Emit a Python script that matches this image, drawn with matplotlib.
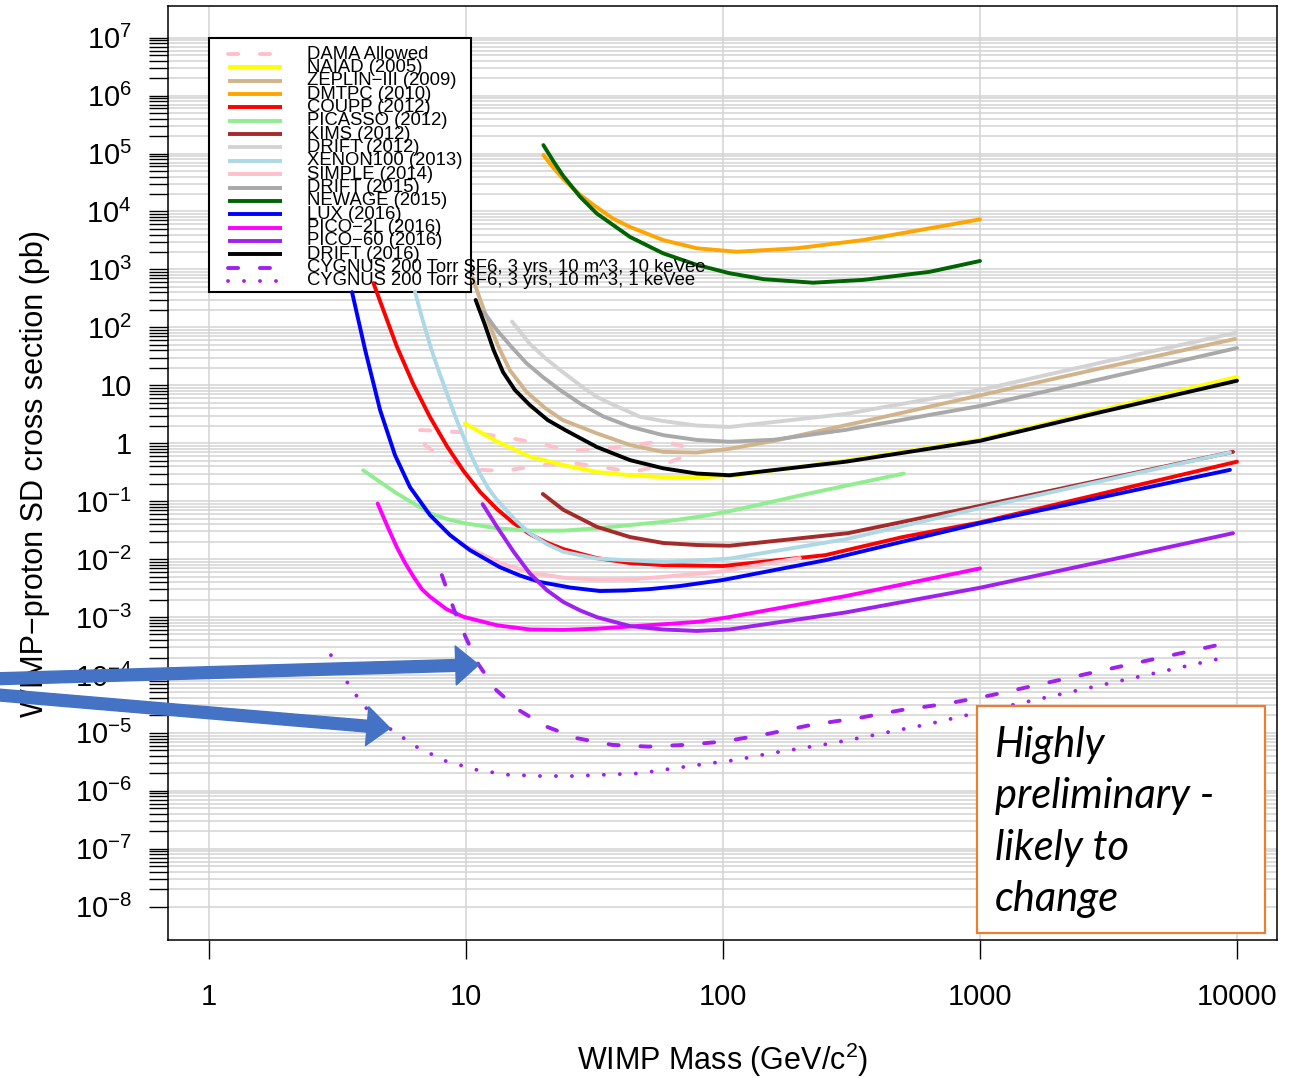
import matplotlib.pyplot as plt
from matplotlib.patches import Rectangle

plt.rcParams['font.family'] = ['Liberation Sans', 'DejaVu Sans']
plt.rcParams['mathtext.fontset'] = 'custom'
plt.rcParams['mathtext.rm'] = 'Liberation Sans'
plt.rcParams['mathtext.it'] = 'Liberation Sans:italic'

# limit curves, WIMP mass (GeV) vs SD cross section (pb)
dama_mass = [6.62, 7.92, 10.6, 14.3, 19.4, 25.4, 34.1, 44.7, 58.4, 71.8, 73.5,
             57.9, 44.7, 33.2, 24.7, 18.4, 13.8, 10.4, 8.06, 6.92, 6.62]
dama_sigma = [1.69, 1.63, 1.50, 1.28, 0.97, 0.76, 0.79, 0.93, 1.09, 0.86, 0.63,
              0.42, 0.32, 0.39, 0.47, 0.40, 0.33, 0.36, 0.57, 0.93, 1.69]
naiad_mass = [9.9, 13.2, 17.7, 23.9, 32.3, 43.5, 58.4, 80.9, 106, 300, 1000, 3000, 10000]
naiad_sigma = [2.2, 1.07, 0.59, 0.42, 0.32, 0.28, 0.26, 0.26, 0.27, 0.50, 1.15, 3.8, 14]
zeplin_mass = [10.6, 11.44, 12.4, 13.44, 14.8, 17.2, 20.3, 23.8, 32.3, 43.5, 58.4, 79, 106,
               158, 400, 1000, 3000, 9820]
zeplin_sigma = [711, 274, 105, 44, 18.3, 7.66, 4.05, 2.51, 1.48, 0.93, 0.71, 0.69, 0.80,
                1.1, 2.7, 6.7, 20, 63]
dmtpc_mass = [20, 21.9, 23.9, 27.8, 32.3, 37.4, 43.5, 58.4, 79, 113, 194, 352, 638, 1000]
dmtpc_sigma = [9.44e4, 5.63e4, 3.64e4, 1.93e4, 1.18e4, 7510, 5400, 3220, 2320, 2020, 2320,
               3220, 5130, 7330]
coupp_mass = [4.36, 5.37, 6.23, 7.24, 8.42, 9.78, 11.35, 13.2, 15.3, 17.7, 20.6, 23.9, 32.3,
              43.5, 58.4, 100, 250, 500, 1000, 10000]
coupp_sigma = [583, 47.6, 10.5, 2.83, 0.895, 0.331, 0.144, 0.073, 0.0419, 0.027, 0.0193,
               0.0149, 0.0104, 0.00855, 0.00789, 0.0076, 0.0117, 0.024, 0.043, 0.48]
picasso_mass = [3.98, 5.38, 7.24, 8.42, 9.77, 13.2, 17.7, 23.9, 32.3, 58.4, 80.9, 106, 220, 505]
picasso_sigma = [0.34, 0.136, 0.062, 0.0492, 0.042, 0.034, 0.031, 0.031, 0.034, 0.044, 0.054,
                 0.067, 0.138, 0.30]
kims_mass = [19.9, 23.9, 32.3, 43.5, 58.4, 79, 106, 306, 1000, 9650]
kims_sigma = [0.133, 0.071, 0.036, 0.024, 0.019, 0.0175, 0.017, 0.028, 0.083, 0.71]
drift12_mass = [15.1, 17.7, 20.3, 23.2, 29.0, 32.3, 36.3, 47.5, 58.4, 79, 106, 300, 1000,
                3000, 9930]
drift12_sigma = [126, 52, 29.6, 18.4, 8.7, 6.3, 4.9, 2.87, 2.42, 2.02, 1.91, 3.2, 8.3, 25, 81]
xenon_mass = [6.33, 6.74, 7.24, 7.78, 8.42, 9.06, 9.77, 10.5, 11.3, 12.2, 13.2, 15.3, 17.7,
              20.6, 23.9, 32.3, 58.4, 80.9, 106, 300, 1000, 9390]
xenon_sigma = [412, 147, 49.5, 19.1, 7.28, 2.99, 1.29, 0.597, 0.302, 0.167, 0.105, 0.0512,
               0.0279, 0.0182, 0.0134, 0.0102, 0.0089, 0.0095, 0.0102, 0.022, 0.076, 0.69]
simple_mass = [9.48, 13.6, 18.3, 24.6, 33.2, 44.8, 60.4, 94.5, 199]
simple_sigma = [0.0186, 0.0085, 0.0057, 0.0047, 0.0044, 0.0045, 0.005, 0.006, 0.0104]
drift15_mass = [11.7, 13.2, 15.1, 17.2, 19.9, 23.2, 28.0, 34.2, 43.5, 58.4, 79, 106, 158,
                300, 1000, 3000, 10000]
drift15_sigma = [186, 89, 44.9, 24, 13.9, 8.3, 4.75, 2.9, 1.93, 1.38, 1.14, 1.06, 1.15,
                 1.7, 4.4, 13, 44]
newage_mass = [20, 21.9, 23.9, 27.8, 32.3, 43.5, 58.4, 79, 106, 143.5, 224, 352, 638, 1000]
newage_sigma = [1.4e5, 7.3e4, 4.1e4, 1.79e4, 9200, 3630, 1900, 1200, 860, 680, 590, 660,
                910, 1400]
lux_mass = [3.60, 4.05, 4.63, 5.29, 6.05, 7.24, 8.66, 10.35, 13.5, 16.2, 19.4, 25.4, 33.2,
            41.6, 52.1, 68, 100, 250, 500, 1000, 9390]
lux_sigma = [407, 40.7, 3.74, 0.625, 0.175, 0.0575, 0.026, 0.0143, 0.0073, 0.00521, 0.00402,
             0.00323, 0.00281, 0.00287, 0.00304, 0.00343, 0.00436, 0.00955, 0.02, 0.0417, 0.347]
pico2l_mass = [4.53, 4.93, 5.38, 5.79, 6.24, 6.72, 7.24, 8.41, 9.77, 13.2, 17.7, 23.9, 32.3,
               58.4, 80.9, 106, 300, 1000]
pico2l_sigma = [0.091, 0.0378, 0.016, 0.0086, 0.005, 0.00305, 0.00224, 0.00136, 0.00101,
                7.2e-4, 6.1e-4, 6.0e-4, 6.3e-4, 7.5e-4, 8.3e-4, 1.0e-3, 2.3e-3, 6.9e-3]
pico60_mass = [11.6, 13.2, 15.3, 17.7, 20.6, 23.9, 27.8, 32.3, 43.5, 58.4, 79, 106, 300,
               1000, 3000, 9650]
pico60_sigma = [0.089, 0.036, 0.01346, 0.00568, 0.00292, 0.00182, 0.0013, 9.95e-4, 6.97e-4,
                6.1e-4, 5.75e-4, 6.1e-4, 1.2e-3, 3.2e-3, 9.1e-3, 0.028]
drift16_mass = [10.9, 11.85, 12.8, 13.93, 15.5, 17.7, 20.8, 24.3, 32.3, 43.5, 58.4, 79, 106,
                300, 1000, 3000, 10000]
drift16_sigma = [297, 110, 40.6, 16.9, 8.28, 4.56, 2.51, 1.69, 0.86, 0.51, 0.37, 0.30, 0.28,
                 0.48, 1.1, 3.5, 12]
cyg10_mass = [8.05, 9.0, 10.0, 11.2, 13.1, 16.0, 20.4, 27, 37.2, 51.2, 70.5, 101, 151, 225,
              335, 500, 746, 1113, 3000, 8200]
cyg10_sigma = [5.3e-3, 1.3e-3, 4.34e-4, 1.5e-4, 5.5e-5, 2.5e-5, 1.3e-5, 8.1e-6, 6.2e-6,
               5.8e-6, 6.2e-6, 7.1e-6, 9.7e-6, 1.4e-5, 1.8e-5, 2.5e-5, 3.2e-5, 4.5e-5,
               1.2e-4, 3.2e-4]
cyg1_mass = [2.98, 3.23, 3.44, 3.73, 4.08, 5.03, 6.39, 8.28, 11.0, 14.5, 19.6, 25.9, 35, 47.2,
             62.5, 84.4, 112, 151, 200, 264, 356, 471, 623, 834, 9400]
cyg1_sigma = [2.2e-4, 1.3e-4, 7.6e-5, 4.5e-5, 2.7e-5, 1.2e-5, 5.8e-6, 3.3e-6, 2.3e-6, 1.9e-6,
              1.8e-6, 1.8e-6, 1.9e-6, 2.0e-6, 2.4e-6, 2.9e-6, 3.4e-6, 4.4e-6, 5.4e-6, 6.6e-6,
              8.5e-6, 1.1e-5, 1.4e-5, 1.9e-5, 2.1e-4]

series = [
    ('DAMA Allowed', dama_mass, dama_sigma, 'pink', 'dash'),
    ('NAIAD (2005)', naiad_mass, naiad_sigma, 'yellow', 'solid'),
    ('ZEPLIN\u2212III (2009)', zeplin_mass, zeplin_sigma, 'tan', 'solid'),
    ('DMTPC (2010)', dmtpc_mass, dmtpc_sigma, 'orange', 'solid'),
    ('COUPP (2012)', coupp_mass, coupp_sigma, 'red', 'solid'),
    ('PICASSO (2012)', picasso_mass, picasso_sigma, 'lightgreen', 'solid'),
    ('KIMS (2012)', kims_mass, kims_sigma, 'brown', 'solid'),
    ('DRIFT (2012)', drift12_mass, drift12_sigma, 'lightgray', 'solid'),
    ('XENON100 (2013)', xenon_mass, xenon_sigma, 'lightblue', 'solid'),
    ('SIMPLE (2014)', simple_mass, simple_sigma, 'pink', 'solid'),
    ('DRIFT (2015)', drift15_mass, drift15_sigma, 'darkgray', 'solid'),
    ('NEWAGE (2015)', newage_mass, newage_sigma, 'darkgreen', 'solid'),
    ('LUX (2016)', lux_mass, lux_sigma, 'blue', 'solid'),
    ('PICO\u22122L (2016)', pico2l_mass, pico2l_sigma, 'magenta', 'solid'),
    ('PICO\u221260 (2016)', pico60_mass, pico60_sigma, '#A020F0', 'solid'),
    ('DRIFT (2016)', drift16_mass, drift16_sigma, 'black', 'solid'),
    ('CYGNUS 200 Torr SF6, 3 yrs, 10 m^3, 10 keVee', cyg10_mass, cyg10_sigma, '#A020F0', 'dash'),
    ('CYGNUS 200 Torr SF6, 3 yrs, 10 m^3, 1 keVee', cyg1_mass, cyg1_sigma, '#A020F0', 'dot'),
]

ytick_vals = [10.0 ** e for e in range(-8, 8)]
ytick_labels = ['$10^{%d}$' % e for e in range(-8, 0)] + ['1', '10'] + \
               ['$10^{%d}$' % e for e in range(2, 8)]
xtick_vals = [1, 10, 100, 1000, 10000]
xtick_labels = ['1', '10', '100', '1000', '10000']

LW = 2.8
styles = {'solid': '-', 'dash': (0, (2.6, 5.6)), 'dot': (0, (0.01, 4.1))}

fig = plt.figure(figsize=(12.91, 10.78), dpi=100)
ax = fig.add_axes([0.1301, 0.1280, 0.8591, 0.8664])
ax.set_xscale('log')
ax.set_yscale('log')

for label, m, s, c, kind in series:
    ax.plot(m, s, color=c, lw=LW, ls=styles[kind], dash_capstyle='round',
            solid_capstyle='round', solid_joinstyle='round', zorder=3)

ax.set_xlim(0.692, 14320)
ax.set_ylim(2.66e-9, 3.52e7)

ax.set_xticks(xtick_vals)
ax.set_xticklabels(xtick_labels)
ax.xaxis.set_minor_locator(plt.NullLocator())
ax.set_yticks(ytick_vals)
ax.set_yticklabels(ytick_labels)
ax.set_yticks([k * 10.0 ** e for e in range(-8, 7) for k in range(2, 10)], minor=True)
ax.yaxis.set_minor_formatter(plt.NullFormatter())

ax.grid(which='major', color='#D3D3D3', lw=1.1)
ax.grid(which='minor', axis='y', color='#D3D3D3', lw=1.1)
ax.set_axisbelow(True)
ax.tick_params(which='both', direction='out', length=14, width=1, labelsize=21)
ax.tick_params(axis='x', pad=17)
ax.tick_params(axis='y', pad=12)
for sp in ax.spines.values():
    sp.set_linewidth(1.1)

ax.set_xlabel('WIMP Mass (GeV/c$^2$)', fontsize=22)
ax.xaxis.set_label_coords(0.5, -0.108)
ax.set_ylabel('WIMP\u2212proton SD cross section (pb)', fontsize=22)
ax.yaxis.set_label_coords(-0.106, 0.5)

# legend drawn by hand so the box stays narrow like the original
ax.add_patch(Rectangle((0.0370, 0.6938), 0.2362, 0.2719, transform=ax.transAxes,
                       facecolor='white', edgecolor='black', lw=1.5, zorder=2.5))
for i, (label, m, s, c, kind) in enumerate(series):
    yy = 0.9486 - i * 0.01429
    ax.plot([0.0541, 0.1028], [yy, yy], transform=ax.transAxes, color=c, lw=LW,
            ls=styles[kind], dash_capstyle='round', solid_capstyle='butt', zorder=4)
    ax.text(0.1253, yy, label, transform=ax.transAxes, va='center', ha='left',
            fontsize=13.3, zorder=5)

# note box
ax.add_patch(Rectangle((0.7295, 0.0075), 0.2597, 0.2430, transform=ax.transAxes,
                       facecolor='white', edgecolor='#ED7D31', lw=1.6, zorder=6))
ax.text(0.7457, 0.229, 'Highly\npreliminary -\nlikely to\nchange', transform=ax.transAxes,
        va='top', ha='left', family='Lato', style='italic', fontsize=30,
        linespacing=1.43, zorder=7)

# arrows pointing at the CYGNUS curves
for tip, tail in [((11.2, 1.5e-4), 0.3701), ((5.06, 1.21e-5), 0.3562)]:
    ann = ax.annotate('', xy=tip, xytext=(-0.01, tail), xycoords='data',
                      textcoords='figure fraction', annotation_clip=False, zorder=10,
                      arrowprops=dict(width=8.5, headwidth=28, headlength=16.5,
                                      color='#4472C4', shrink=0))
    ann.arrow_patch.set_clip_on(False)

plt.savefig('out.png', dpi=100)
